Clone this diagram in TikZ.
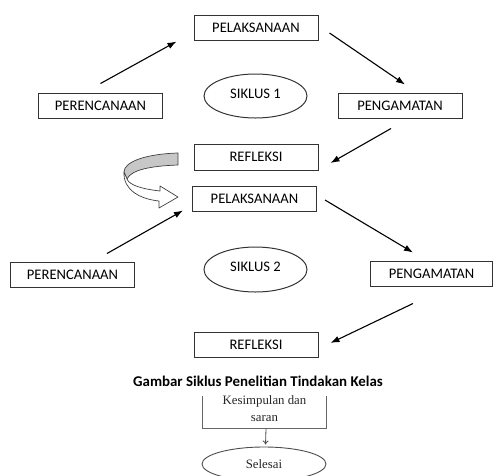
\documentclass[tikz,border=0pt]{standalone}
\usepackage{fontspec}
\setmainfont{Carlito}
\newfontfamily\serifb{Liberation Serif}
\usetikzlibrary{arrows.meta,shapes.geometric,calc}
\begin{document}
\begin{tikzpicture}[x=1pt,y=-1pt,
 box/.style={draw=black!80,line width=1pt,minimum width=124pt,minimum height=25pt,inner sep=0pt,font=\fontsize{14.6}{16}\selectfont},
 oval/.style={draw=black!80,line width=1pt,ellipse,minimum width=103pt,minimum height=44pt,inner sep=0pt,text depth=5pt,font=\fontsize{14.6}{16}\selectfont},
 arr/.style={line width=1.1pt,-{Latex[length=9pt,width=6.5pt]}},
 block/.style={draw=black!75,line width=0.7pt,line join=round},
 faint/.style={text=black!85,font=\serifb\fontsize{12.8}{17}\selectfont},
]
\useasboundingbox (0,0) rectangle (493,475);
\clip (0,0) rectangle (493,475);
% cycle 1
\node[box] (L1) at (256,27.5) {PELAKSANAAN};
\node[box] (P1) at (100.5,105.5) {PERENCANAAN};
\node[oval] (S1) at (255.5,96) {SIKLUS 1};
\node[box] (G1) at (400,105.5) {PENGAMATAN};
\node[box,minimum height=26pt] (R1) at (256,157) {REFLEKSI};
% cycle 2
\node[box] (L2) at (254.5,198.5) {PELAKSANAAN};
\node[box] (P2) at (72.5,274.5) {PERENCANAAN};
\node[oval,minimum height=45pt] (S2) at (255.5,269.5) {SIKLUS 2};
\node[box,minimum width=122pt] (G2) at (431.5,273.5) {PENGAMATAN};
\node[box] (R2) at (256,344.5) {REFLEKSI};
% arrows
\draw[arr] ([shift={(0,-9)}]P1.north) -- ([shift={(-17,1)}]L1.south west);
\draw[arr] ([shift={(11,5.5)}]L1.east) -- ([shift={(5,-8)}]G1.north);
\draw[arr] ([shift={(-9,10)}]G1.south) -- ([shift={(12,6)}]R1.east);
\draw[arr] ([shift={(34.5,-8)}]P2.north) -- ([shift={(-9,-1)}]L2.south west);
\draw[arr] ([shift={(8,1.5)}]L2.east) -- ([shift={(-18.5,-8)}]G2.north);
\draw[arr] ([shift={(-18.5,17)}]G2.south) -- ([shift={(12,-1.5)}]R2.east);
% curved block arrow from R1 to L2
\filldraw[block,fill=black!22] (178,153) .. controls (145,154) and (124,162) .. (124,172) -- (127,179) .. controls (131,170) and (150,166) .. (178,165) -- cycle;
\filldraw[block,fill=white] (124,172) .. controls (123,190) and (140,199) .. (159,201) -- (159,208) -- (178,197) -- (160,186) -- (160,191) .. controls (142,189) and (129,185) .. (127,179) -- cycle;
% caption
\node[font=\bfseries\fontsize{14.9}{16}\selectfont] (cap) at (258,381) {Gambar Siklus Penelitian Tindakan Kelas};
% bottom fragment
\node[faint,align=center] (K) at (264.5,408.5) {Kesimpulan dan\\saran};
\draw[black!60,line width=0.9pt] ([shift={(-62.5,-12.5)}]K.center) -- ([shift={(-62.5,19.5)}]K.center) -- ([shift={(61.5,19.5)}]K.center) -- ([shift={(61.5,-12.5)}]K.center);
\node[faint,draw=black!70,line width=0.9pt,ellipse,minimum width=124pt,minimum height=34pt,inner sep=0pt] (E) at (264,464) {Selesai};
\draw[black!70,line width=0.8pt,-{To[length=4pt,width=6pt]}] ([shift={(1.5,20.5)}]K.center) -- ([shift={(1.5,-2)}]E.north);
\end{tikzpicture}
\end{document}
